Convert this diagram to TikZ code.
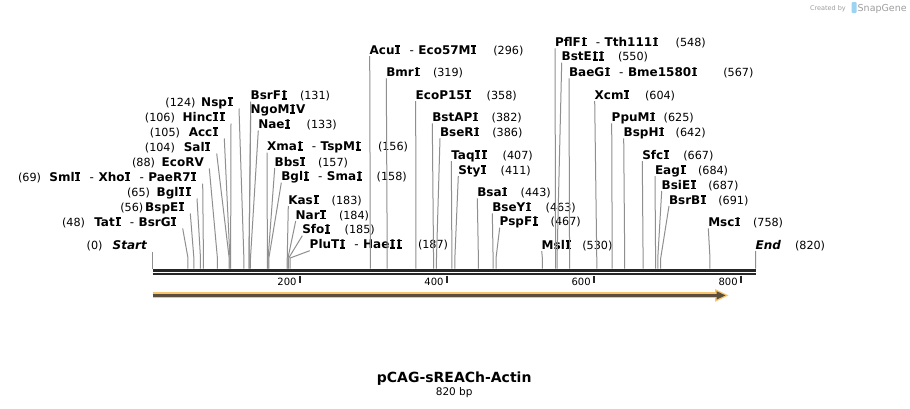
\documentclass[tikz,border=0pt]{standalone}
\usepackage{fontspec}
\setmainfont{DejaVu Sans}[BoldItalicFont={DejaVu Sans Bold Oblique},ItalicFont={DejaVu Sans Oblique}]
\definecolor{cutgray}{HTML}{8F8F8F}
\definecolor{bbone}{HTML}{262626}
\definecolor{featorange}{HTML}{F8C56C}
\definecolor{featdark}{HTML}{5B4E3C}
\definecolor{logogray}{HTML}{9E9E9E}
\definecolor{logoblue}{HTML}{9DD3F2}
% real letter I, with Verdana-like bars added and wider spacing
\newcommand\VI{\kern0.085em\rlap{\kern-0.024em\rule{0.42em}{0.115em}}%
  \rlap{\kern-0.024em\rule[0.614em]{0.42em}{0.115em}}I\kern0.085em}
\newcommand\Dsh{\mdseries\hspace{8.5pt}-\hspace{4.5pt}\bfseries}
\newcommand\Lsite[7]{%
  \node[nm,anchor=base west] (#1) at (#2-1,#3+4) {#4};
  \node[nb,anchor=base west] (#1n) at (#5-1,#3+4) {(#6)};
  \coordinate (#1b) at (152.7+0.7352*#7,258);
  \coordinate (#1c) at (152.7+0.7352*#7,268.5);
  \draw[cut] ([shift={(0,2)}]#1.base west) -- (#1b) -- (#1c);
}
\newcommand\Rsite[7]{%
  \node[nm,anchor=base east] (#1) at (#2+0.5,#3+4) {#4};
  \node[nb,anchor=base east] (#1n) at (#5+1,#3+4) {(#6)};
  \coordinate (#1b) at (152.7+0.7352*#7,258);
  \coordinate (#1c) at (152.7+0.7352*#7,268.5);
  \draw[cut] ([shift={(5.5,2.5)}]#1.base east) -- (#1b) -- (#1c);
}
\tikzset{
  nm/.style={font=\fontsize{12}{14}\selectfont\bfseries, inner sep=0pt, outer sep=0pt},
  nb/.style={font=\fontsize{11.2}{13}\selectfont, inner sep=0pt, outer sep=0pt},
  cut/.style={draw=cutgray, line width=1pt},
  tickmark/.style={draw=bbone, line width=2.2pt},
  ticklbl/.style={font=\fontsize{10}{12}\selectfont, inner sep=0pt, anchor=base east},
}
\begin{document}
\begin{tikzpicture}[x=1pt,y=-1pt]
\useasboundingbox (0,0) rectangle (910,408);
\fill[white] (0,0) rectangle (910,408);

% logo
\node[inner sep=0pt, anchor=base east, text=logogray, font=\fontsize{6.5}{8}\selectfont] (cby) at (846,10) {Created by};
\fill[logoblue, rounded corners=1pt] (851.5,2) rectangle (856.5,13);
\coordinate (logoicon) at (854,7.5);
\node[inner sep=0pt, anchor=base west, text=logogray, font=\fontsize{9.5}{10}\selectfont] (snap) at (857.5,11) {SnapGene};

% backbone
\coordinate (bbL1) at (152.7,270.5);
\coordinate (bbR1) at (756,270.5);
\coordinate (bbL2) at (152.7,274.2);
\coordinate (bbR2) at (756,274.2);
\draw[bbone, line width=3pt] (bbL1) -- (bbR1);
\draw[bbone, line width=2.3pt] (bbL2) -- (bbR2);

% ticks
\foreach \p/\t in {200/t2, 400/t4, 600/t6, 800/t8} {
  \coordinate (\t a) at (152.7+0.7352*\p,275.5);
  \coordinate (\t b) at (152.7+0.7352*\p,282.7);
  \draw[tickmark] (\t a) -- (\t b);
  \node[ticklbl] (\t l) at (152.7+0.7352*\p-3,285) {\p};
}

% feature arrow
\coordinate (fS) at (152.7,295.4);
\coordinate (fE) at (719,295.4);
\coordinate (fT) at (725.5,295.4);
\draw[featorange, line width=6pt] (fS) -- (fE);
\fill[featorange] (715,289) -- (728.5,295.4) -- (715,301.8) -- cycle;
\draw[featdark, line width=2.2pt] (fS) -- (718,295.4);
\fill[featdark] (716.5,291.2) -- (fT) -- (716.5,299.6) -- cycle;

% left group (right aligned)
\Rsite{nsp}{233}{102}{Nsp\VI}{194.5}{124}{124}
\Rsite{hin}{225}{117}{Hinc\VI\VI}{174}{106}{106}
\Rsite{acc}{218.3}{132}{Acc\VI}{179}{105}{105}
\Rsite{sal}{210.7}{147}{Sal\VI}{174}{104}{104}
\Rsite{ecorv}{203.3}{162}{EcoRV}{154}{88}{88}
\Rsite{sml}{196.7}{177}{Sml\VI\Dsh Xho\VI\Dsh PaeR7\VI}{40}{69}{69}
\Rsite{bgltwo}{191}{192}{Bgl\VI\VI}{149}{65}{65}
\Rsite{bspe}{184.3}{207}{BspE\VI}{142.3}{56}{56}
\Rsite{tat}{176.7}{222}{Tat\VI\Dsh BsrG\VI}{84}{48}{48}
\Rsite{start}{146.7}{245}{\textit{Start}}{101.5}{0}{0}

% middle group
\Lsite{bsrf}{251.7}{95.5}{BsrF\VI}{301}{131}{131}
\node[nm,anchor=base west] (ngo) at (250.7,113.8) {NgoM\VI V};
\coordinate (ngob) at (152.7+0.7352*131,258);
\coordinate (ngoc) at (152.7+0.7352*131,268.5);
\draw[cut] ([shift={(0,2)}]ngo.base west) -- (ngob) -- (ngoc);
\Lsite{nae}{259.3}{124.5}{Nae\VI}{307.7}{133}{133}
\Lsite{xma}{268}{146.7}{Xma\VI\Dsh TspM\VI}{379}{156}{156}
\Lsite{bbs}{275.7}{162}{Bbs\VI}{319}{157}{157}
\Lsite{bglone}{282.3}{176.7}{Bgl\VI\Dsh Sma\VI}{377.7}{158}{158}
\Lsite{kas}{289.3}{200}{Kas\VI}{332.7}{183}{183}
\Lsite{nar}{296.7}{215}{Nar\VI}{340}{184}{184}
\Lsite{sfo}{303.3}{229.7}{Sfo\VI}{345.7}{185}{185}
\Lsite{plu}{310.7}{244.7}{PluT\VI\Dsh Hae\VI\VI}{419}{187}{187}

% top group
\Lsite{acu}{370.7}{50}{Acu\VI\Dsh Eco57M\VI}{494.3}{296}{296}
\Lsite{bmr}{387.3}{72.3}{Bmr\VI}{434}{319}{319}
\Lsite{ecop}{416.7}{95}{EcoP15\VI}{487.7}{358}{358}
\Lsite{bsta}{433.3}{117.3}{BstAP\VI}{492.7}{382}{382}
\Lsite{bser}{441}{132.3}{BseR\VI}{493.3}{386}{386}
\Lsite{taq}{452.3}{155}{Taq\VI\VI}{503.7}{407}{407}
\Lsite{sty}{459.3}{170}{Sty\VI}{501.7}{411}{411}
\Lsite{bsa}{478.3}{192.3}{Bsa\VI}{521.7}{443}{443}
\Lsite{bsey}{493.3}{207.3}{BseY\VI}{546.7}{463}{463}
\Lsite{pspf}{500.7}{221.7}{PspF\VI}{551.7}{467}{467}
\Lsite{msl}{542.7}{245}{Msl\VI}{583.3}{530}{530}

% right group
\Lsite{pfl}{556}{42.3}{PflF\VI\Dsh Tth111\VI}{676.7}{548}{548}
\Lsite{bste}{562.7}{56.7}{BstE\VI\VI}{619}{550}{550}
\Lsite{bae}{570}{72.3}{BaeG\VI\Dsh Bme1580\VI}{724.3}{567}{567}
\Lsite{xcm}{595.7}{95}{Xcm\VI}{646}{604}{604}
\Lsite{ppu}{612.7}{117.3}{PpuM\VI}{664.7}{625}{625}
\Lsite{bsph}{624.7}{132.3}{BspH\VI}{676.7}{642}{642}
\Lsite{sfc}{643.3}{155}{Sfc\VI}{684.3}{667}{667}
\Lsite{eag}{656}{170}{Eag\VI}{699}{684}{684}
\Lsite{bsie}{662.7}{185}{BsiE\VI}{709.3}{687}{687}
\Lsite{bsrb}{670}{200}{BsrB\VI}{719.3}{691}{691}
\Lsite{msc}{709.3}{222.3}{Msc\VI}{754}{758}{758}
\Lsite{end}{756.7}{245}{\textit{End}}{796}{820}{820}

% title
\node[inner sep=0pt, anchor=base, font=\fontsize{14}{16}\selectfont\bfseries] (title) at (454.2,382) {pCAG-sREACh-Actin};
\node[inner sep=0pt, anchor=base, font=\fontsize{10.5}{12}\selectfont] (bp) at (454.2,395) {820 bp};
\end{tikzpicture}
\end{document}
